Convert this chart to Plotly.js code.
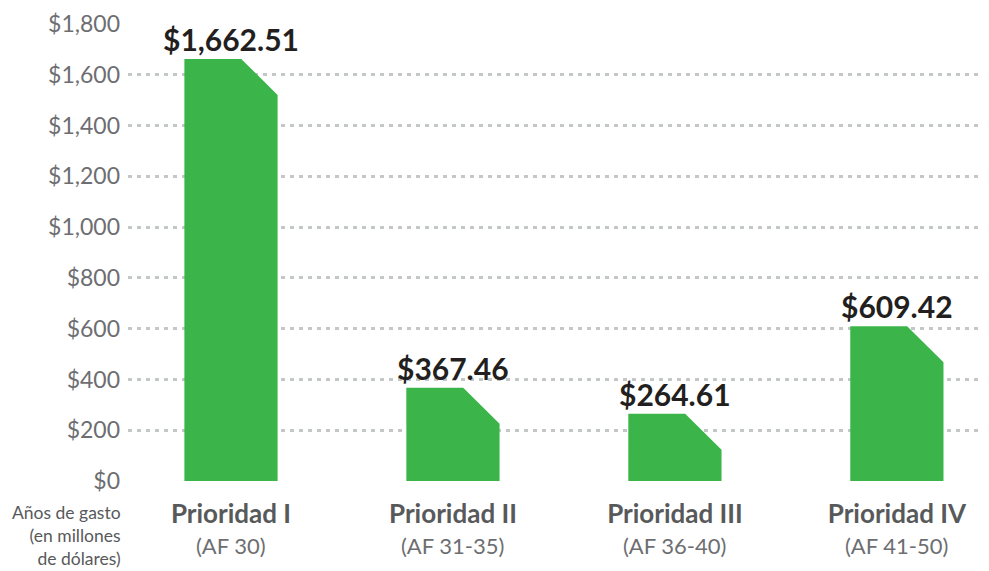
<!DOCTYPE html>
<html>
<head>
<meta charset="utf-8">
<script src="https://cdn.plot.ly/plotly-3.0.1.min.js"></script>
<style>html,body{margin:0;padding:0;background:#fff;}#chart{width:989px;height:571px;}</style>
</head>
<body>
<div id="chart"></div>
<script>
// ---- data ----
const categories = ["Prioridad I", "Prioridad II", "Prioridad III", "Prioridad IV"];
const periods = ["(AF 30)", "(AF 31-35)", "(AF 36-40)", "(AF 41-50)"];
const amounts = [1662.51, 367.46, 264.61, 609.42];
const yTicks = [0, 200, 400, 600, 800, 1000, 1200, 1400, 1600, 1800];

// ---- style ----
const GREEN = "#3bb54a";
const BAR_W = 0.42;          // bar width in category units
const FLAT = 0.61;           // fraction of width that stays flat at the top
const CHAMFER = 142;         // drop of the clipped corner, in axis units

const traces = amounts.map((v, i) => {
  const x0 = i - BAR_W / 2, x1 = i + BAR_W / 2, xm = x0 + BAR_W * FLAT;
  return {
    type: "scatter", mode: "lines", fill: "toself", fillcolor: GREEN,
    line: {width: 0, color: GREEN}, hoverinfo: "skip", showlegend: false,
    x: [x0, x0, xm, x1, x1, x0],
    y: [0, v, v, v - CHAMFER, 0, 0]
  };
});

const fmt = v => "$" + v.toLocaleString("en-US", {minimumFractionDigits: 2, maximumFractionDigits: 2});

const annotations = amounts.map((v, i) => ({
  x: i, y: v, xref: "x", yref: "y", text: "<b>" + fmt(v) + "</b>",
  showarrow: false, xanchor: "center", yanchor: "bottom", yshift: 0,
  font: {family: "Lato", size: 30, color: "#231f20"}
}));
periods.forEach((p, i) => annotations.push({
  x: i, y: 0, xref: "x", yref: "paper", text: p, showarrow: false,
  xanchor: "center", yanchor: "middle", yshift: -64,
  font: {family: "Lato", size: 22, color: "#6d6e71"}
}));
annotations.push({
  xref: "paper", yref: "paper", x: 0, y: 0, xanchor: "right", yanchor: "top",
  xshift: -5, yshift: -19, align: "right", showarrow: false,
  text: "Años de gasto<br>(en millones<br>de dólares)",
  font: {family: "Lato", size: 17.5, color: "#58595b"}
});

const layout = {
  width: 989, height: 571,
  margin: {l: 128, r: 6, t: 24, b: 90},
  paper_bgcolor: "#ffffff", plot_bgcolor: "#ffffff",
  showlegend: false,
  xaxis: {
    range: [-0.464, 3.388], tickvals: [0, 1, 2, 3],
    ticktext: categories.map(c => "<b>" + c + "</b>"),
    tickfont: {family: "Lato", size: 26, color: "#58595b"},
    showgrid: false, zeroline: false, showline: false, ticks: "",
    ticklabelstandoff: 15, fixedrange: true
  },
  yaxis: {
    range: [0, 1800], tickvals: yTicks,
    ticktext: yTicks.map(t => "$" + t.toLocaleString("en-US")),
    tickfont: {family: "Lato", size: 23, color: "#6d6e71"},
    showgrid: true, gridcolor: "#c3c7c7", gridwidth: 3, griddash: "4px,5px",
    zeroline: false, showline: false, ticks: "", ticklabelstandoff: 7,
    fixedrange: true
  },
  annotations: annotations
};

Plotly.newPlot("chart", traces, layout, {displayModeBar: false, staticPlot: true});
</script>
</body>
</html>
